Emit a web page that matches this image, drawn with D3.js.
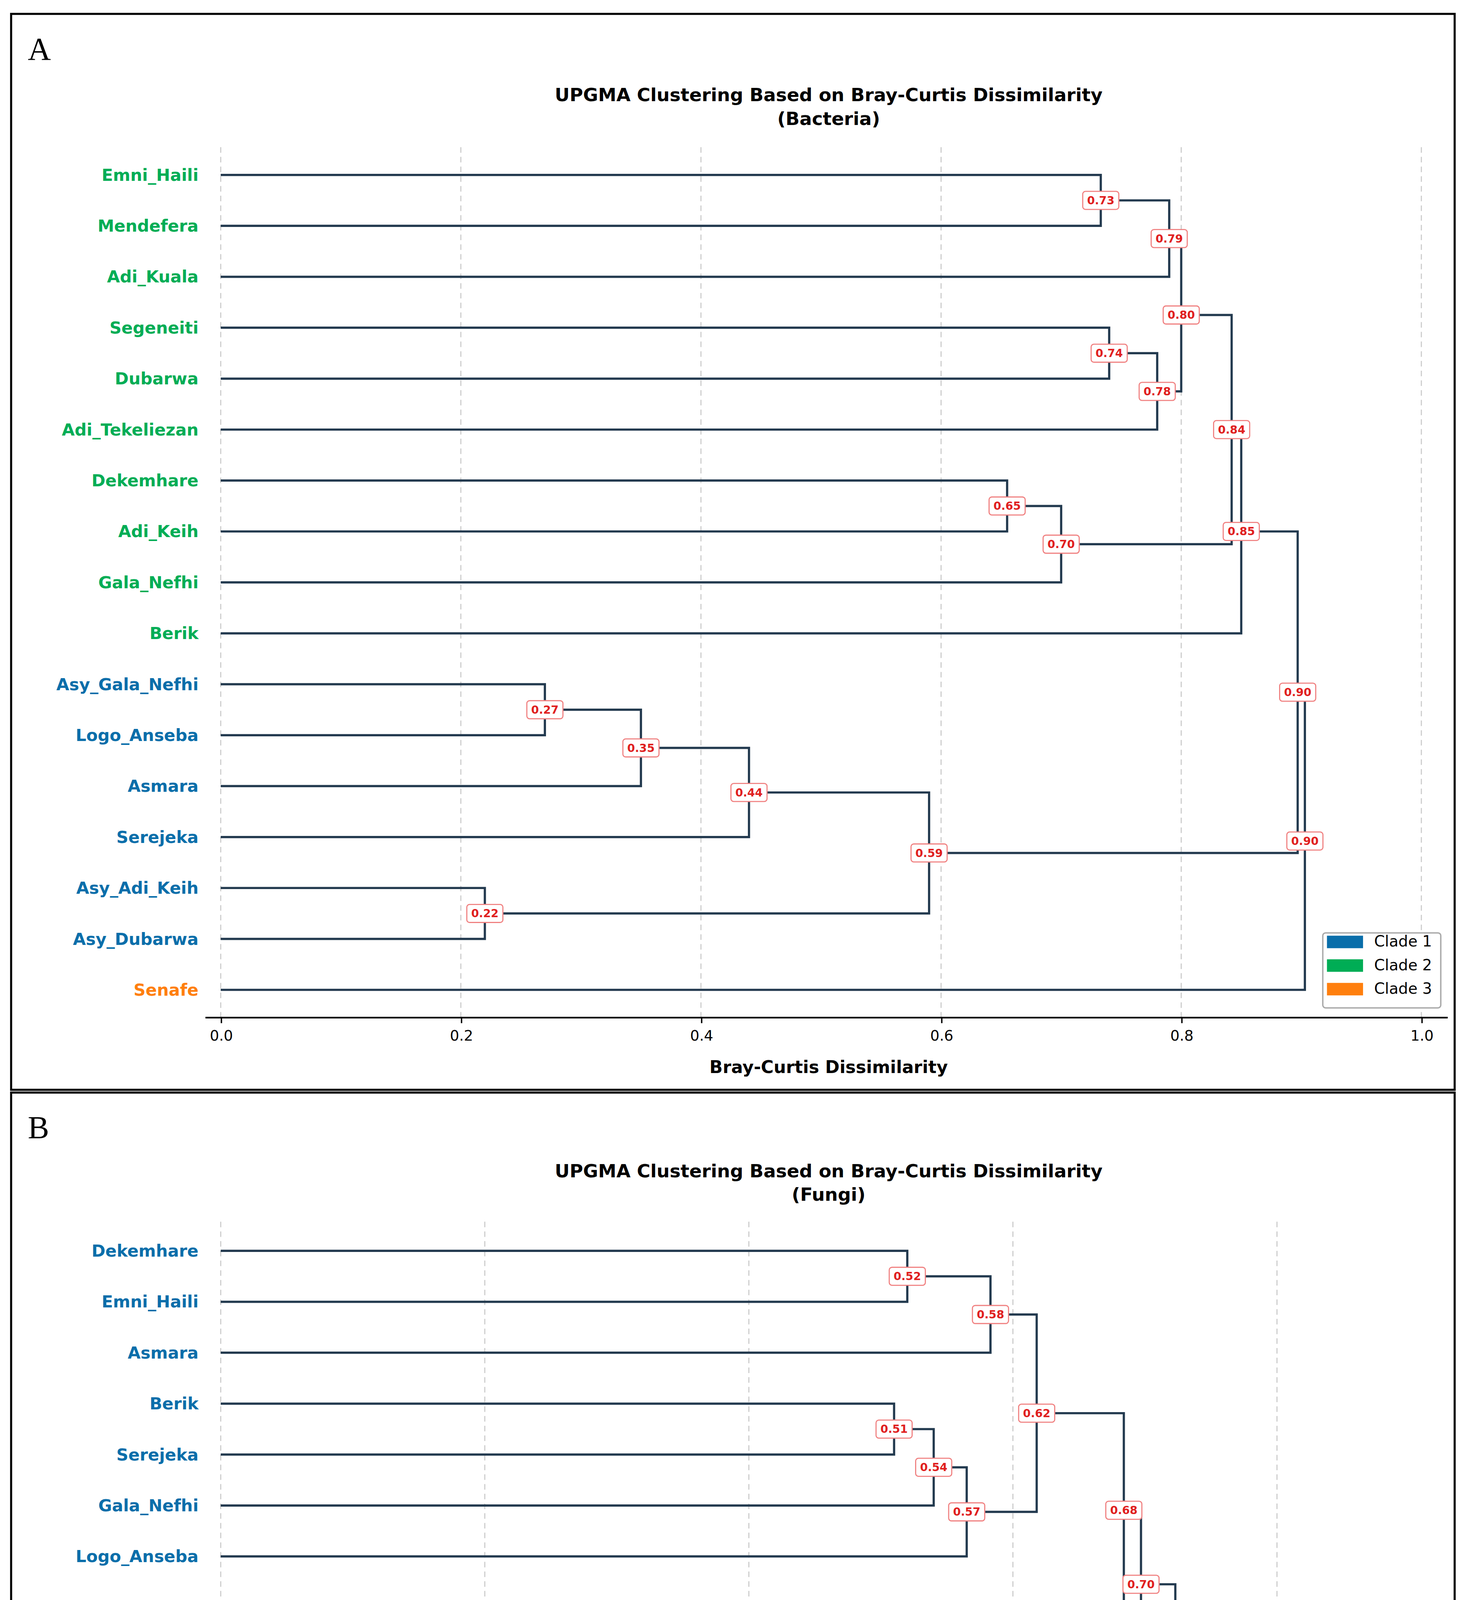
<!DOCTYPE html>
<html><head><meta charset="utf-8">
<script src="https://cdn.jsdelivr.net/npm/d3@7"></script>
<style>html,body{margin:0;padding:0;background:#fff;overflow:hidden}svg{display:block}</style>
</head><body>
<script>
// leaves (top to bottom) and clade per leaf
const leavesA = ["Emni_Haili","Mendefera","Adi_Kuala","Segeneiti","Dubarwa","Adi_Tekeliezan","Dekemhare","Adi_Keih","Gala_Nefhi","Berik","Asy_Gala_Nefhi","Logo_Anseba","Asmara","Serejeka","Asy_Adi_Keih","Asy_Dubarwa","Senafe"];
const cladeA = [2,2,2,2,2,2,2,2,2,2,1,1,1,1,1,1,3];
// merges: [left node, right node, height, label]; node ids >= leaves.length refer to earlier merges
const mergesA = [
  [0,1,0.733,"0.73"],[17,2,0.79,"0.79"],[3,4,0.74,"0.74"],[19,5,0.78,"0.78"],
  [18,20,0.80,"0.80"],[6,7,0.655,"0.65"],[22,8,0.70,"0.70"],[21,23,0.842,"0.84"],
  [24,9,0.85,"0.85"],[10,11,0.27,"0.27"],[26,12,0.35,"0.35"],[27,13,0.44,"0.44"],
  [14,15,0.22,"0.22"],[28,29,0.59,"0.59"],[25,30,0.897,"0.90"],[31,16,0.903,"0.90"]
];
const leavesB = ["Dekemhare","Emni_Haili","Asmara","Berik","Serejeka","Gala_Nefhi","Logo_Anseba","Adi_Tekeliezan","Dubarwa","Asy_Gala_Nefhi","Asy_Dubarwa","Asy_Adi_Keih","Mendefera","Segeneiti","Adi_Keih","Senafe","Adi_Kuala"];
const cladeB = [1,1,1,1,1,1,1,1,1,1,1,1,1,2,2,2,3];
const mergesB = [
  [0,1,0.52,"0.52"],[17,2,0.583,"0.58"],[3,4,0.51,"0.51"],[19,5,0.54,"0.54"],
  [20,6,0.565,"0.57"],[18,21,0.618,"0.62"],[22,7,0.684,"0.68"],[23,8,0.697,"0.70"],
  [9,10,0.33,"0.33"],[25,11,0.482,"0.48"],[24,26,0.723,"0.72"],[27,12,0.765,"0.77"],
  [13,14,0.681,"0.68"],[29,15,0.74,"0.74"],[28,30,0.782,"0.78"],[31,16,0.826,"0.83"]
];
const ticksA = [0,0.2,0.4,0.6,0.8,1.0];
const ticksB = [0,0.2,0.4,0.6,0.8];
const cladeNames = ["Clade 1","Clade 2","Clade 3"];
const cladeColors = {1:"#0a6eaa",2:"#00ad55",3:"#ff7f0e"};

const svg = d3.select("body").append("svg")
  .attr("width",3746).attr("height",5546)
  .attr("viewBox","0 0 1054 1560.5");

function panel(cfg){
  const g = svg.append("g");
  g.append("rect").attr("x",cfg.box[0]).attr("y",cfg.box[1]).attr("width",cfg.box[2]).attr("height",cfg.box[3])
    .attr("fill","none").attr("stroke","#000").attr("stroke-width",1.5);
  g.append("text").attr("x",20).attr("y",cfg.box[1]+33).attr("font-family","Liberation Serif").attr("font-size",23).text(cfg.letter);
  const x = d3.scaleLinear().domain(cfg.xDomain).range([159,1024]);
  const y = d3.scaleLinear().domain([0,cfg.leaves.length-1]).range(cfg.yRange);
  const axisY = cfg.axisY;
  // title
  g.append("text").attr("x",597).attr("y",cfg.titleY).attr("text-anchor","middle")
    .attr("font-family","DejaVu Sans").attr("font-weight","bold").attr("font-size",13.2)
    .selectAll("tspan").data(cfg.title).join("tspan").attr("x",597).attr("dy",(d,i)=>i?17:0).text(d=>d);
  // grid
  g.selectAll(".grid").data(cfg.ticks).join("line")
    .attr("x1",d=>x(d)).attr("x2",d=>x(d)).attr("y1",cfg.gridTop).attr("y2",axisY)
    .attr("stroke","#ccc").attr("stroke-width",0.8).attr("stroke-dasharray","4,3");
  // axis
  const ax = g.append("g").attr("transform",`translate(0,${axisY})`)
    .call(d3.axisBottom(x).tickValues(cfg.ticks).tickFormat(d3.format(".1f")).tickSize(4));
  ax.select(".domain").attr("d",`M148,0H1043`).attr("stroke-width",1.2);
  ax.selectAll("text").attr("font-family","DejaVu Sans").attr("font-size",10.5).attr("dy","0.9em");
  g.append("text").attr("x",597).attr("y",axisY+40).attr("text-anchor","middle")
    .attr("font-family","DejaVu Sans").attr("font-weight","bold").attr("font-size",12.5).text("Bray-Curtis Dissimilarity");
  // node positions
  const pos = cfg.leaves.map((d,i)=>({x:x(0),y:y(i)}));
  const links = [], labels = [];
  cfg.merges.forEach(m=>{
    const a = pos[m[0]], b = pos[m[1]], hx = x(m[2]);
    links.push([[a.x,a.y],[hx,a.y],[hx,b.y],[b.x,b.y]]);
    const p = {x:hx,y:(a.y+b.y)/2};
    pos.push(p); labels.push({x:hx,y:p.y,t:m[3]});
  });
  g.selectAll(".link").data(links).join("path").attr("d",d3.line())
    .attr("fill","none").attr("stroke","#233a4f").attr("stroke-width",1.6);
  const lb = g.selectAll(".lbl").data(labels).join("g").attr("transform",d=>`translate(${d.x},${d.y})`);
  lb.append("rect").attr("x",-13).attr("y",-6.5).attr("width",26).attr("height",13).attr("rx",2)
    .attr("fill","#fff").attr("stroke","#f08080").attr("stroke-width",0.8);
  lb.append("text").attr("text-anchor","middle").attr("dy","0.35em").attr("font-family","DejaVu Sans")
    .attr("font-weight","bold").attr("font-size",8).attr("fill","#e02020").text(d=>d.t);
  // leaf labels
  g.selectAll(".leaf").data(cfg.leaves).join("text")
    .attr("x",143).attr("y",(d,i)=>y(i)).attr("dy","0.35em").attr("text-anchor","end")
    .attr("font-family","DejaVu Sans").attr("font-weight","bold").attr("font-size",12)
    .attr("fill",(d,i)=>cladeColors[cfg.clade[i]]).text(d=>d);
  // legend
  const lg = g.append("g").attr("transform",`translate(953,${cfg.legendY})`);
  lg.append("rect").attr("width",85).attr("height",54).attr("rx",2).attr("fill","#fff").attr("stroke","#aaa");
  cladeNames.forEach((c,i)=>{
    lg.append("rect").attr("x",3).attr("y",6+i*17-4).attr("width",26).attr("height",9).attr("fill",cladeColors[i+1]);
    lg.append("text").attr("x",37).attr("y",6+i*17).attr("dy","0.35em").attr("font-family","DejaVu Sans")
      .attr("font-size",11).text(c);
  });
}

panel({box:[8,10,1040,775],letter:"A",title:["UPGMA Clustering Based on Bray-Curtis Dissimilarity","(Bacteria)"],titleY:73,
  leaves:leavesA,clade:cladeA,merges:mergesA,ticks:ticksA,xDomain:[0,1],yRange:[126,713],axisY:733,gridTop:106,legendY:672});
panel({box:[8,787,1040,775],letter:"B",title:["UPGMA Clustering Based on Bray-Curtis Dissimilarity","(Fungi)"],titleY:848,
  leaves:leavesB,clade:cladeB,merges:mergesB,ticks:ticksB,xDomain:[0,0.8*865/761],yRange:[901,1488],axisY:1506,gridTop:880,legendY:1447});
</script>
</body></html>
